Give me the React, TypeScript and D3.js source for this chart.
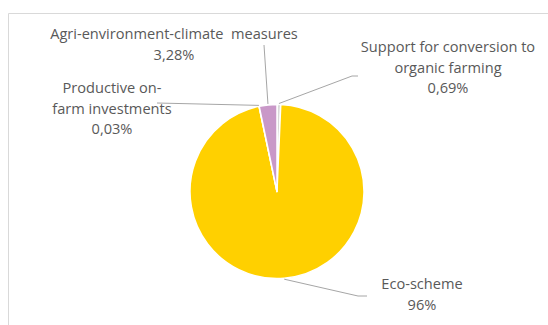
import React from "react";
import * as d3 from "d3";

const categories = [
  "Support for conversion to organic farming",
  "Eco-scheme",
  "Productive on-farm investments",
  "Agri-environment-climate measures",
];
const values = [0.69, 96, 0.03, 3.28];
const valueLabels = ["0,69%", "96%", "0,03%", "3,28%"];
const labelLines = [
  ["Support for conversion to", "organic farming"],
  ["Eco-scheme"],
  ["Productive on-", "farm investments"],
  ["Agri-environment-climate  measures"],
];
const colors = ["#D9D9D9", "#FFD000", "#A5A5A5", "#C998C8"];

const W = 548;
const H = 325;
const cx = 277;
const cy = 191.5;
const R = 87;

// label layout: text center x, first line center y, elbow point, end point
const layout = [
  { tx: 448, ty: 47, elbow: [352, 76], end: [358, 76] },
  { tx: 422, ty: 284, elbow: [358, 296], end: [367, 296] },
  { tx: 112, ty: 88, elbow: [157, 103], end: [157, 103] },
  { tx: 174, ty: 34, elbow: [264, 45], end: [264, 45] },
];

export default function App() {
  const pie = d3.pie<number>().sort(null).value((d) => d)(values);
  const arc = d3.arc<d3.PieArcDatum<number>>().innerRadius(0).outerRadius(R);
  const lineH = 20.5;
  return (
    <svg
      width={W}
      height={H}
      style={{ position: "absolute", left: 0, top: 0, background: "#fff" }}
      fontFamily="'Open Sans', sans-serif"
    >
      <path d={`M8.5,${H} V13.5 H${W}`} fill="none" stroke="#D9D9D9" strokeWidth={1} />
      <g transform={`translate(${cx},${cy})`}>
        {pie.map((p, i) => (
          <path key={i} d={arc(p) || ""} fill={colors[i]} stroke="#fff" strokeWidth={1.5} strokeLinejoin="round" />
        ))}
      </g>
      {pie.map((p, i) => {
        const a = (p.startAngle + p.endAngle) / 2;
        const sx = cx + Math.sin(a) * (R + 1);
        const sy = cy - Math.cos(a) * (R + 1);
        const L = layout[i];
        return (
          <polyline
            key={"l" + i}
            points={`${sx},${sy} ${L.elbow[0]},${L.elbow[1]} ${L.end[0]},${L.end[1]}`}
            fill="none"
            stroke="#A6A6A6"
            strokeWidth={1}
          />
        );
      })}
      {categories.map((c, i) => {
        const L = layout[i];
        const lines = [...labelLines[i], valueLabels[i]];
        return (
          <text key={"t" + i} textAnchor="middle" fontSize={14.6} fill="#595959" style={{ whiteSpace: "pre" }}>
            {lines.map((s, j) => (
              <tspan key={j} x={L.tx} y={L.ty + j * lineH} dy="0.35em">
                {s}
              </tspan>
            ))}
          </text>
        );
      })}
    </svg>
  );
}
